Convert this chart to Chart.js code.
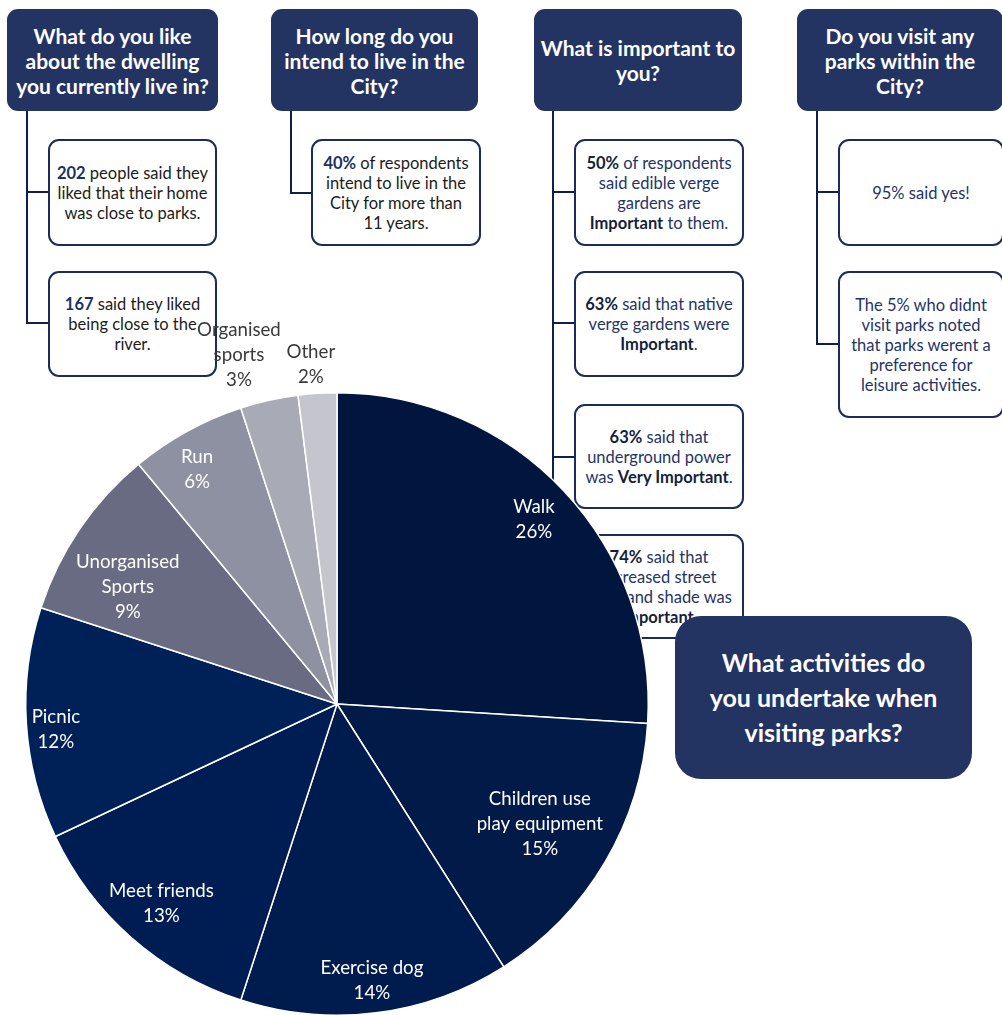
<!DOCTYPE html>
<html>
<head>
<meta charset="utf-8">
<script src="https://cdn.jsdelivr.net/npm/chart.js@4.4.1/dist/chart.umd.min.js"></script>
<style>
  html, body { margin: 0; padding: 0; background: #ffffff; }
  body { width: 1002px; height: 1015px; position: relative; overflow: hidden; font-family: Lato, "Open Sans", sans-serif; }
  .head { position: absolute; background: #243462; color: #ffffff; border-radius: 11px;
          font-weight: 700; font-size: 21px; line-height: 25px; text-align: center; white-space: nowrap;
          display: flex; align-items: center; justify-content: center; box-sizing: border-box; }
  .note { position: absolute; background: #ffffff; border: 2px solid #1b2c5c; border-radius: 11px;
          font-size: 16.5px; line-height: 20px; text-align: center; box-sizing: border-box; white-space: nowrap;
          display: flex; align-items: center; justify-content: center; }
  .dark { color: #1c1c1c; }
  .dark b { color: #1d3161; }
  .navy { color: #1f3467; }
  .navy b { color: #141f3c; }
  .ln { position: absolute; background: #0e1f4d; }
  #pieWrap { position: absolute; left: 0; top: 300px; width: 700px; height: 716px; }
  #activity { position: absolute; left: 675px; top: 616px; width: 297px; height: 163px; background: #243462;
          border-radius: 26px; color: #ffffff; font-weight: 700; font-size: 25px; line-height: 35px;
          text-align: center; white-space: nowrap; display: flex; align-items: center; justify-content: center; }
</style>
</head>
<body>

<!-- question headers -->
<div class="head" style="left:7px;top:9px;width:211px;height:102px;"><div>What do you like<br>about the dwelling<br>you currently live in?</div></div>
<div class="head" style="left:271px;top:9px;width:207px;height:102px;"><div>How long do you<br>intend to live in the<br>City?</div></div>
<div class="head" style="left:534px;top:9px;width:208px;height:102px;"><div>What is important to<br>you?</div></div>
<div class="head" style="left:797px;top:9px;width:206px;height:102px;"><div>Do you visit any<br>parks within the<br>City?</div></div>

<!-- connector lines -->
<div class="ln" style="left:26px;top:111px;width:2px;height:213px;"></div>
<div class="ln" style="left:26px;top:191px;width:23px;height:2px;"></div>
<div class="ln" style="left:26px;top:322px;width:23px;height:2px;"></div>

<div class="ln" style="left:290px;top:111px;width:2px;height:83px;"></div>
<div class="ln" style="left:290px;top:192px;width:22px;height:2px;"></div>

<div class="ln" style="left:552px;top:111px;width:2px;height:480px;"></div>
<div class="ln" style="left:552px;top:191px;width:23px;height:2px;"></div>
<div class="ln" style="left:552px;top:322px;width:23px;height:2px;"></div>
<div class="ln" style="left:552px;top:456px;width:23px;height:2px;"></div>
<div class="ln" style="left:552px;top:588px;width:23px;height:2px;"></div>

<div class="ln" style="left:816px;top:111px;width:2px;height:234px;"></div>
<div class="ln" style="left:816px;top:191px;width:22px;height:2px;"></div>
<div class="ln" style="left:816px;top:343px;width:22px;height:2px;"></div>

<!-- answer boxes -->
<div class="note dark" style="left:48px;top:139px;width:169px;height:107px;"><div><b>202</b> people said they<br>liked that their home<br>was close to parks.</div></div>
<div class="note dark" style="left:48px;top:271px;width:169px;height:106px;"><div><b>167</b> said they liked<br>being close to the<br>river.</div></div>

<div class="note dark" style="left:311px;top:139px;width:170px;height:107px;"><div><b>40%</b> of respondents<br>intend to live in the<br>City for more than<br>11 years.</div></div>

<div class="note navy" style="left:574px;top:139px;width:170px;height:107px;"><div><b>50%</b> of respondents<br>said edible verge<br>gardens are<br><b>Important</b> to them.</div></div>
<div class="note navy" style="left:574px;top:271px;width:170px;height:106px;"><div><b>63%</b> said that native<br>verge gardens were<br><b>Important</b>.</div></div>
<div class="note navy" style="left:574px;top:404px;width:170px;height:105px;"><div><b>63%</b> said that<br>underground power<br>was <b>Very Important</b>.</div></div>
<div class="note navy" style="left:574px;top:534px;width:170px;height:105px;"><div><b>74%</b> said that<br>increased street<br>trees and shade was<br><b>Important</b>.</div></div>

<div class="note navy" style="left:838px;top:139px;width:166px;height:107px;"><div>95% said yes!</div></div>
<div class="note navy" style="left:838px;top:271px;width:166px;height:147px;"><div>The 5% who didnt<br>visit parks noted<br>that parks werent a<br>preference for<br>leisure activities.</div></div>

<!-- activity pie -->
<div id="pieWrap"><canvas id="pie"></canvas></div>

<div id="activity"><div>What activities do<br>you undertake when<br>visiting parks?</div></div>

<script>
// Park activities, share of responses (%)
const activities = ['Walk', 'Children use play equipment', 'Exercise dog', 'Meet friends', 'Picnic',
                    'Unorganised Sports', 'Run', 'Organised sports', 'Other'];
const shares = [26, 15, 14, 13, 12, 9, 6, 3, 2];
const labelLines = [['Walk'], ['Children use', 'play equipment'], ['Exercise dog'], ['Meet friends'], ['Picnic'],
                    ['Unorganised', 'Sports'], ['Run'], ['Organised', 'sports'], ['Other']];

const sliceColors = ['#01163f', '#021a47', '#001b4d', '#001d53', '#002058',
                     '#686b82', '#8e91a1', '#a8aab6', '#c5c6cd'];
// label placement: distance as a fraction of the radius, and a small turn (degrees) off the slice middle
const labelRadius = [0.868, 0.757, 0.896, 0.853, 0.907, 0.77, 0.878, 1.164, 1.095];
const labelTurn = [0, 0, 0, 0, -1.6, -5, -2, -3.1, -0.8];

const sliceLabels = {
  id: 'sliceLabels',
  afterDatasetsDraw(chart) {
    const ctx = chart.ctx;
    const meta = chart.getDatasetMeta(0);
    const values = chart.data.datasets[0].data;
    ctx.save();
    ctx.font = '18.7px Lato, "Open Sans", sans-serif';
    ctx.textAlign = 'center';
    ctx.textBaseline = 'middle';
    meta.data.forEach((arc, i) => {
      const p = arc.getProps(['x', 'y', 'startAngle', 'endAngle', 'outerRadius'], true);
      const mid = (p.startAngle + p.endAngle) / 2 + labelTurn[i] * Math.PI / 180;
      const r = p.outerRadius * labelRadius[i];
      const cx = p.x + Math.cos(mid) * r;
      const cy = p.y + Math.sin(mid) * r;
      const lines = labelLines[i].concat([values[i] + '%']);
      const lh = 25;
      ctx.fillStyle = labelRadius[i] > 1 ? '#3a3a3a' : '#ffffff';
      lines.forEach((t, k) => {
        ctx.fillText(t, cx, cy + (k - (lines.length - 1) / 2) * lh);
      });
    });
    ctx.restore();
  }
};

new Chart(document.getElementById('pie'), {
  type: 'pie',
  data: {
    labels: activities,
    datasets: [{
      data: shares,
      backgroundColor: sliceColors,
      borderColor: '#ffffff',
      borderWidth: 1.5
    }]
  },
  options: {
    responsive: true,
    maintainAspectRatio: false,
    animation: false,
    events: [],
    layout: { padding: { left: 25, top: 92, right: 51, bottom: 0 } },
    plugins: { legend: { display: false }, tooltip: { enabled: false } }
  },
  plugins: [sliceLabels]
});
</script>
</body>
</html>
